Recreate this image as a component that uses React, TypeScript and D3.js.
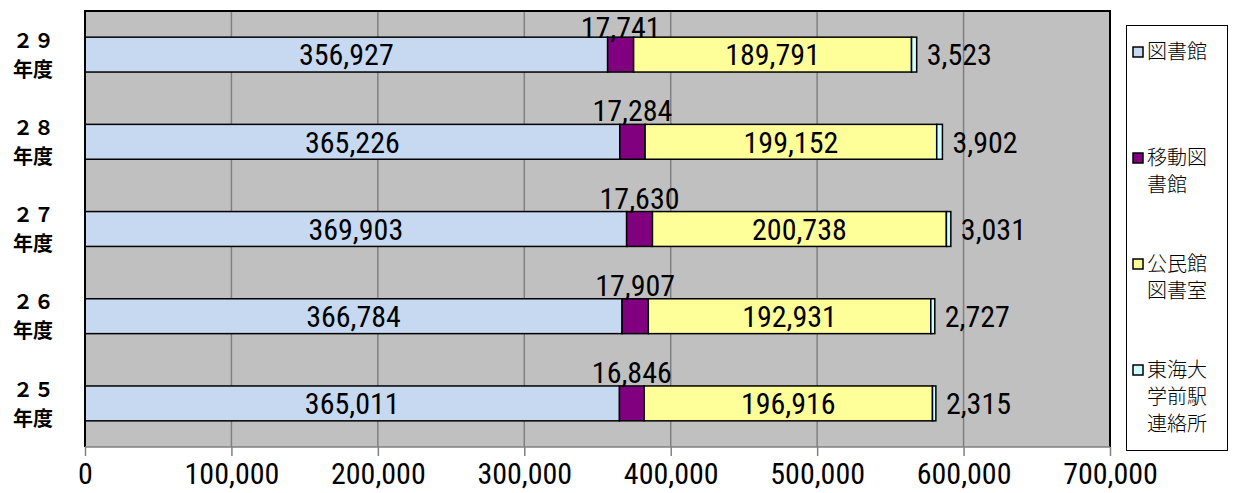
import React, { useEffect, useRef } from "react";
import * as d3 from "d3";

// 年度別 貸出冊数
const years = ["２９", "２８", "２７", "２６", "２５"];
const library = [356927, 365226, 369903, 366784, 365011];
const mobile = [17741, 17284, 17630, 17907, 16846];
const community = [189791, 199152, 200738, 192931, 196916];
const tokai = [3523, 3902, 3031, 2727, 2315];
const seriesNames = [["図書館"], ["移動図", "書館"], ["公民館", "図書室"], ["東海大", "学前駅", "連絡所"]];
const colors = ["#c6d9f1", "#800080", "#ffff99", "#ccffff"];
const xTicks = [0, 100000, 200000, 300000, 400000, 500000, 600000, 700000];

const W = 1234, H = 493;
const margin = { top: 11, right: 124, bottom: 46, left: 85 };
const numFont = "'Liberation Sans Narrow', 'Arial Narrow', 'Roboto Condensed', sans-serif";
const jpFont = "'Noto Sans CJK JP', sans-serif";

export default function App() {
  const ref = useRef<SVGSVGElement>(null);

  useEffect(() => {
    const svg = d3.select(ref.current);
    svg.selectAll("*").remove();

    const x0 = margin.left, x1 = W - margin.right;
    const y0 = margin.top, y1 = H - margin.bottom;

    const x = d3.scaleLinear().domain([0, 700000]).range([x0, x1]);
    const y = d3.scaleBand().domain(years).range([y0, y1]).paddingInner(0.6).paddingOuter(0.3);
    const fmt = d3.format(",");

    const rows = years.map((yr, i) => ({ yr, vals: [library[i], mobile[i], community[i], tokai[i]] }));

    // plot background
    svg.append("rect")
      .attr("x", x0).attr("y", y0)
      .attr("width", x1 - x0).attr("height", y1 - y0)
      .attr("fill", "#c0c0c0");

    // grid
    svg.append("g").selectAll("line")
      .data(xTicks.slice(1, -1))
      .join("line")
      .attr("x1", d => x(d)).attr("x2", d => x(d))
      .attr("y1", y0).attr("y2", y1)
      .attr("stroke", "#808080").attr("stroke-width", 1.5);

    // bars
    const bh = y.bandwidth();
    rows.forEach(r => {
      const g = svg.append("g");
      let acc = 0;
      r.vals.forEach((v, k) => {
        g.append("rect")
          .attr("x", x(acc)).attr("y", y(r.yr)!)
          .attr("width", x(acc + v) - x(acc)).attr("height", bh)
          .attr("fill", colors[k])
          .attr("stroke", "#000").attr("stroke-width", 1.5);
        acc += v;
      });

      const cy = y(r.yr)! + bh / 2;
      const a = r.vals;
      // 図書館
      g.append("text").attr("x", x(a[0] / 2)).attr("y", cy).attr("dy", "0.36em")
        .attr("text-anchor", "middle").text(fmt(a[0]));
      // 移動図書館 (above the bar)
      g.append("text").attr("x", x(a[0] + a[1] / 2))
        .attr("y", Math.max(y(r.yr)! - 3, y0 + 27))
        .attr("text-anchor", "middle").text(fmt(a[1]));
      // 公民館図書室
      g.append("text").attr("x", x(a[0] + a[1] + a[2] / 2)).attr("y", cy).attr("dy", "0.36em")
        .attr("text-anchor", "middle").text(fmt(a[2]));
      // 東海大学前駅連絡所 (right of the bar)
      g.append("text").attr("x", x(a[0] + a[1] + a[2] + a[3]) + 10).attr("y", cy).attr("dy", "0.36em")
        .attr("text-anchor", "start").text(fmt(a[3]));

      g.selectAll("text")
        .attr("font-family", numFont).attr("font-size", 30).attr("fill", "#000");

      // category label
      svg.append("text").attr("x", 34).attr("y", cy - 14).attr("dy", "0.36em")
        .attr("text-anchor", "middle")
        .attr("font-family", jpFont).attr("font-weight", "bold").attr("font-size", 20)
        .attr("letter-spacing", 1)
        .text(r.yr);
      svg.append("text").attr("x", 33).attr("y", cy + 15).attr("dy", "0.36em")
        .attr("text-anchor", "middle")
        .attr("font-family", jpFont).attr("font-weight", "bold").attr("font-size", 20)
        .text("年度");
    });

    // plot border (left, top, right black; bottom grey axis)
    svg.append("path")
      .attr("d", `M${x0},${y1}V${y0}H${x1}V${y1}`)
      .attr("fill", "none").attr("stroke", "#000").attr("stroke-width", 2);
    svg.append("line")
      .attr("x1", x0).attr("x2", x1).attr("y1", y1).attr("y2", y1)
      .attr("stroke", "#808080").attr("stroke-width", 1.5);

    // x axis
    const ax = svg.append("g").attr("transform", `translate(0,${y1})`)
      .call(d3.axisBottom(x).tickValues(xTicks).tickFormat(d => fmt(+d)).tickSize(9));
    ax.select(".domain").remove();
    ax.selectAll(".tick line").attr("stroke", "#808080").attr("stroke-width", 1.5);
    ax.selectAll(".tick text")
      .attr("y", 37).attr("dy", 0)
      .attr("font-family", numFont).attr("font-size", 30).attr("fill", "#000");

    // legend
    const lg = svg.append("g");
    lg.append("rect").attr("x", 1126.5).attr("y", 25.5).attr("width", 101).attr("height", 425)
      .attr("fill", "#fff").attr("stroke", "#000").attr("stroke-width", 1);
    seriesNames.forEach((lines, k) => {
      const top = 52 + k * 106;
      lg.append("rect").attr("x", 1133).attr("y", top - 5).attr("width", 10).attr("height", 10)
        .attr("fill", colors[k]).attr("stroke", "#000").attr("stroke-width", 1.5);
      lines.forEach((t, j) => {
        lg.append("text").attr("x", 1147).attr("y", top + j * 27).attr("dy", "0.36em")
          .attr("font-family", jpFont).attr("font-weight", 300).attr("font-size", 20).attr("fill", "#000")
          .text(t);
      });
    });
  }, []);

  return (
    <svg ref={ref} width={W} height={H}
      style={{ position: "absolute", left: 0, top: 0, background: "#fff" }} />
  );
}
